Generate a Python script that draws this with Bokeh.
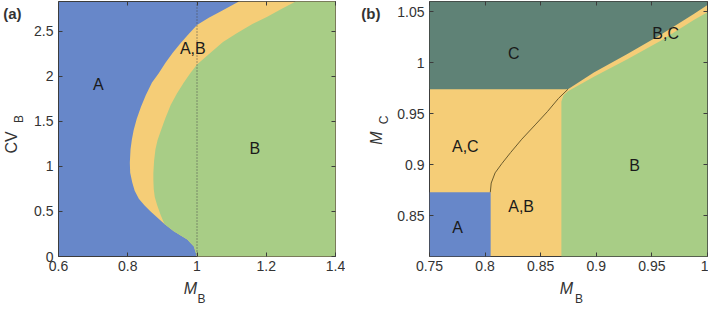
import numpy as np
from bokeh.plotting import figure
from bokeh.models import Range1d, FixedTicker, LinearAxis, Span, ColumnDataSource
from bokeh.layouts import row
from bokeh.embed import file_html
from bokeh.resources import INLINE
from bokeh.core.properties import value

FONT = "Liberation Sans"
BLUE = "#6787c9"
YELLOW = "#f5cd77"
GREEN = "#a8cd86"
DARK = "#5f8276"
INK = "#333333"

# ---------------- panel (a) data ----------------
a_xlim = (0.6, 1.4)
a_ylim = (0.0, 2.83)
a_xticks = [0.6, 0.8, 1.0, 1.2, 1.4]
a_xticklabels = ["0.6", "0.8", "1", "1.2", "1.4"]
a_yticks = [0.0, 0.5, 1.0, 1.5, 2.0, 2.5]
a_yticklabels = ["0", "0.5", "1", "1.5", "2", "2.5"]
# A | B boundary below the bistable tongue
a_lower_mb = [1.000, 0.991, 0.972, 0.933]
a_lower_cv = [0.00, 0.11, 0.19, 0.28]
# A | A,B boundary
a_outer_mb = [0.906, 0.866, 0.848, 0.832, 0.820, 0.813, 0.807, 0.806, 0.808, 0.812, 0.817, 0.826,
              0.838, 0.852, 0.870, 0.889, 0.909, 0.930, 0.953, 0.976, 1.000, 1.034, 1.068, 1.121]
a_outer_cv = [0.36, 0.50, 0.57, 0.64, 0.73, 0.82, 0.93, 1.04, 1.19, 1.30, 1.40, 1.53,
              1.66, 1.79, 1.93, 2.03, 2.15, 2.26, 2.37, 2.47, 2.57, 2.65, 2.72, 2.83]
# A,B | B boundary
a_inner_mb = [0.906, 0.895, 0.885, 0.878, 0.875, 0.874, 0.874, 0.876, 0.880, 0.886, 0.895, 0.908,
              0.924, 0.942, 0.962, 0.980, 1.000, 1.039, 1.075, 1.116, 1.160, 1.203, 1.245, 1.285]
a_inner_cv = [0.36, 0.46, 0.57, 0.66, 0.75, 0.85, 0.93, 1.06, 1.19, 1.29, 1.39, 1.53,
              1.68, 1.81, 1.93, 2.03, 2.13, 2.26, 2.38, 2.48, 2.58, 2.66, 2.75, 2.83]
a_ref_mb = 1.0
a_region_text = ["A", "A,B", "B"]
a_region_mb = [0.715, 0.988, 1.167]
a_region_cv = [1.905, 2.31, 1.198]
# where the axis titles sit (data position along their axis)
a_xtitle_at = [0.981, 1.013]     # "M", subscript "B"
a_ytitle_at = [1.266, 1.526]     # "CV", subscript "B"
a_tag_at = 2.692                 # "(a)"

# ---------------- panel (b) data ----------------
b_xlim = (0.75, 1.0)
b_ylim = (0.81, 1.06)
b_xticks = [0.75, 0.8, 0.85, 0.9, 0.95, 1.0]
b_xticklabels = ["0.75", "0.8", "0.85", "0.9", "0.95", "1"]
b_yticks = [0.85, 0.9, 0.95, 1.0, 1.05]
b_yticklabels = ["0.85", "0.9", "0.95", "1", "1.05"]
b_a_mb_max = 0.805
b_a_mc_max = 0.873
b_c_mc_min = 0.974
b_c_edge_mb = [0.8745, 0.8978, 0.9279, 0.9579, 0.988, 1.0]
b_c_edge_mc = [0.974, 0.9905, 1.0085, 1.0275, 1.048, 1.0565]
b_b_edge_mb = [0.8686, 0.8686, 0.8705, 0.8745, 0.8978, 0.9279, 0.9579, 0.988, 1.0]
b_b_edge_mc = [0.81, 0.962, 0.968, 0.972, 0.9862, 1.0035, 1.0215, 1.042, 1.0495]
b_curve_mb = [0.8047, 0.8055, 0.809, 0.815, 0.823, 0.833, 0.845, 0.856, 0.866, 0.8745]
b_curve_mc = [0.873, 0.882, 0.892, 0.901, 0.912, 0.925, 0.939, 0.952, 0.965, 0.974]
b_region_text = ["C", "A,C", "A,B", "A", "B", "B,C"]
b_region_mb = [0.8257, 0.7822, 0.8324, 0.7753, 0.9345, 0.9624]
b_region_mc = [1.009, 0.918, 0.859, 0.838, 0.899, 1.029]
b_xtitle_at = [0.8732, 0.8845]   # "M", subscript "B"
b_ytitle_at = [0.9262, 0.9438]   # "M", subscript "C"
b_tag_at = 1.0483                # "(b)"

HEIGHT = 308
TICK_SIZE = "14px"


def make_fig(xlim, ylim, xt, xtl, yt, ytl, bg, w, bl, br):
    p = figure(width=w, height=HEIGHT,
               x_range=Range1d(*xlim), y_range=Range1d(*ylim),
               output_backend="svg", toolbar_location=None,
               min_border_left=bl, min_border_right=br,
               min_border_top=1, min_border_bottom=51,
               background_fill_color=bg, border_fill_color="white",
               outline_line_color="#3c3c3c", outline_line_width=1)
    p.grid.visible = False
    for ax, t, tl in ((p.xaxis[0], xt, xtl), (p.yaxis[0], yt, ytl)):
        ax.ticker = FixedTicker(ticks=t)
        ax.major_label_overrides = dict(zip(t, tl))
        ax.major_tick_in = 4
        ax.major_tick_out = 0
        ax.minor_tick_line_color = None
        ax.axis_line_color = None
        ax.major_tick_line_color = "#3c3c3c"
        ax.major_label_text_font = FONT
        ax.major_label_text_font_size = TICK_SIZE
        ax.major_label_text_color = INK
    p.xaxis.major_label_standoff = 4
    p.yaxis.major_label_standoff = 5
    for t, side in ((xt, "above"), (yt, "right")):
        ax = LinearAxis(ticker=FixedTicker(ticks=t),
                        major_label_overrides={v: "" for v in t},
                        major_tick_in=4, major_tick_out=0, minor_tick_line_color=None,
                        axis_line_color=None, major_tick_line_color="#3c3c3c",
                        major_label_standoff=0)
        p.add_layout(ax, side)
    return p


def text_axis(p, side, loc, text, size, standoff, style="normal", orient=None):
    """An axis with no line and no tick marks, used only to carry one text outside the frame."""
    ax = LinearAxis(ticker=FixedTicker(ticks=[loc]), major_label_overrides={loc: text},
                    major_label_standoff=standoff, major_label_text_font=FONT,
                    major_label_text_font_size=size, major_label_text_font_style=style,
                    major_label_text_color=INK, major_tick_line_color=None,
                    minor_tick_line_color=None, axis_line_color=None,
                    major_tick_in=0, major_tick_out=0)
    if orient is not None:
        ax.major_label_orientation = orient
    p.add_layout(ax, side)


def region_text(p, xs, ys, ts):
    p.text(x="x", y="y", text="t", source=ColumnDataSource(dict(x=xs, y=ys, t=ts)),
           text_font=value(FONT), text_font_size=value("16px"), text_color="#1a1a1a",
           text_align="center", text_baseline="middle")


# ---------- panel (a) ----------
pa = make_fig(a_xlim, a_ylim, a_xticks, a_xticklabels, a_yticks, a_yticklabels, BLUE, 345, 58, 10)
corner_x = [a_xlim[1], a_xlim[1]]
corner_y = [a_ylim[1], a_ylim[0]]
pa.patch(a_lower_mb + a_outer_mb + corner_x, a_lower_cv + a_outer_cv + corner_y,
         fill_color=YELLOW, line_color=None)
pa.patch(a_lower_mb + a_inner_mb + corner_x, a_lower_cv + a_inner_cv + corner_y,
         fill_color=GREEN, line_color=None)
pa.add_layout(Span(location=a_ref_mb, dimension="height", line_color="#4a4a4a",
                   line_dash="1 2", line_width=1))
region_text(pa, a_region_mb, a_region_cv, a_region_text)
text_axis(pa, "below", a_xtitle_at[0], "M", "16px", 6, style="italic")
text_axis(pa, "below", a_xtitle_at[1], "B", "12px", -8)
text_axis(pa, "left", a_ytitle_at[1], "B", "12px", 5, orient="parallel")
text_axis(pa, "left", a_ytitle_at[0], "CV", "16px", -11, orient="parallel")
text_axis(pa, "left", a_tag_at, "(a)", "15px", -21, style="bold")

# ---------- panel (b) ----------
pb = make_fig(b_xlim, b_ylim, b_xticks, b_xticklabels, b_yticks, b_yticklabels, YELLOW, 363, 84, 1)
pb.patch(b_b_edge_mb + [b_xlim[1]], b_b_edge_mc + [b_ylim[0]], fill_color=GREEN, line_color=None)
pb.patch([b_xlim[0]] + b_c_edge_mb + [b_xlim[1], b_xlim[0]],
         [b_c_mc_min] + b_c_edge_mc + [b_ylim[1], b_ylim[1]],
         fill_color=DARK, line_color=None)
pb.quad(left=[b_xlim[0]], right=[b_a_mb_max], bottom=[b_ylim[0]], top=[b_a_mc_max],
        fill_color=BLUE, line_color=None)
pb.line(b_curve_mb, b_curve_mc, line_color="#6b5b2e", line_width=1)
region_text(pb, b_region_mb, b_region_mc, b_region_text)
text_axis(pb, "below", b_xtitle_at[0], "M", "16px", 6, style="italic")
text_axis(pb, "below", b_xtitle_at[1], "B", "12px", -8)
text_axis(pb, "left", b_ytitle_at[1], "C", "12px", 3, orient="parallel")
text_axis(pb, "left", b_ytitle_at[0], "M", "16px", -11, style="italic", orient="parallel")
text_axis(pb, "left", b_tag_at, "(b)", "15px", -15, style="bold")

layout = row(pa, pb)
open("out.html", "w").write(file_html(layout, INLINE))
